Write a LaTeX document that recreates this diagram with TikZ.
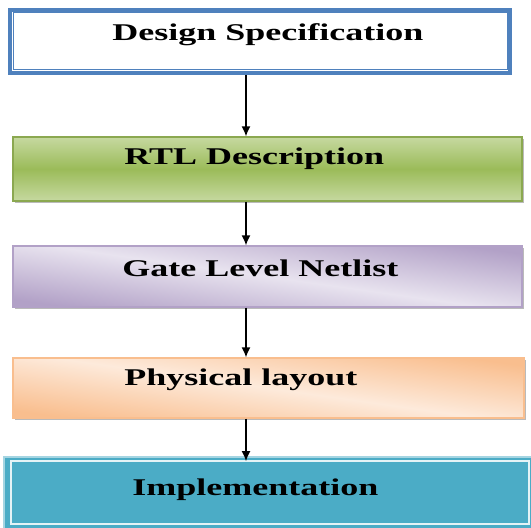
\documentclass[tikz,border=0pt]{standalone}
\usepackage{fontspec}
\newfontfamily\boxfont{Liberation Serif}[FakeStretch=1.5]
\usetikzlibrary{calc,shadows,arrows.meta}
\definecolor{specblue}{HTML}{4F81BD}
\definecolor{rtllight}{HTML}{C6D9A0}
\definecolor{rtldark}{HTML}{9BBB59}
\definecolor{glight}{HTML}{E8E3EF}
\definecolor{gdark}{HTML}{B2A1C7}
\definecolor{plight}{HTML}{FDEADB}
\definecolor{pdark}{HTML}{F9BE8E}
\definecolor{imfill}{HTML}{4BACC6}
\definecolor{imedge}{HTML}{A5D5E2}
\tikzset{
	stage/.style={rectangle, inner sep=0pt, minimum width=254.5pt},
	shade/.style={drop shadow={shadow xshift=1.2pt, shadow yshift=-1.2pt, opacity=0.45, fill=black!60}},
	label/.style={anchor=west, inner sep=0pt, font=\boxfont\bfseries\fontsize{12}{14}\selectfont},
	flow/.style={-{Latex[length=5pt,width=4.5pt]}, line width=0.8pt}
}
\begin{document}
\begin{tikzpicture}[x=0.5pt, y=-0.5pt]
			\useasboundingbox (0,0) rectangle (531,528);
			\node (ds) [stage, draw=specblue, line width=2pt, fill=white, minimum width=250pt, minimum height=31.5pt] at (260,41.5) {};
			\draw [specblue, line width=0.5pt] ($(ds.north west)+(5,5)$) rectangle ($(ds.south east)+(-5,-5)$);
			\node (rtl) [stage, shade, draw=rtldark!90!black, line width=0.6pt, top color=rtllight, bottom color=rtllight, middle color=rtldark, minimum height=32pt] at (267.5,169) {};
			\node (gl) [stage, shade, draw=gdark, line width=0.6pt, top color=gdark, bottom color=gdark, middle color=glight, shading angle=-8, minimum height=30.5pt] at (267.5,276.5) {};
			\node (pl) [stage, shade, draw=pdark, line width=0.6pt, top color=pdark, bottom color=pdark, middle color=plight, shading angle=-8, minimum width=255.5pt, minimum height=30pt] at (268.5,388) {};
			\node (im) [stage, draw=imedge, line width=0.8pt, fill=imfill, minimum width=266pt, minimum height=38pt] at (270,495) {};
			\draw [white!85!imfill, line width=1pt] ($(im.north west)+(8,5)$) rectangle ($(im.south east)+(-8,-10)$);
			\node (dsText) [label] at (112,35) {Design Specification};
			\node (rtlText) [label] at (124,159) {RTL Description};
			\node (glText) [label] at (122,268) {Gate Level Netlist};
			\node (plText) [label] at (124,380) {Physical layout};
			\node (imText) [label] at (132,490) {Implementation};
			\coordinate (ax) at (246,0);
			\draw [flow] (ds.south -| ax) -- (rtl.north -| ax);
			\draw [flow] (rtl.south -| ax) -- (gl.north -| ax);
			\draw [flow] (gl.south -| ax) -- (pl.north -| ax);
			\draw [flow] (pl.south -| ax) -- ($(im.north -| ax)+(0,5)$);
		\end{tikzpicture}
\end{document}
